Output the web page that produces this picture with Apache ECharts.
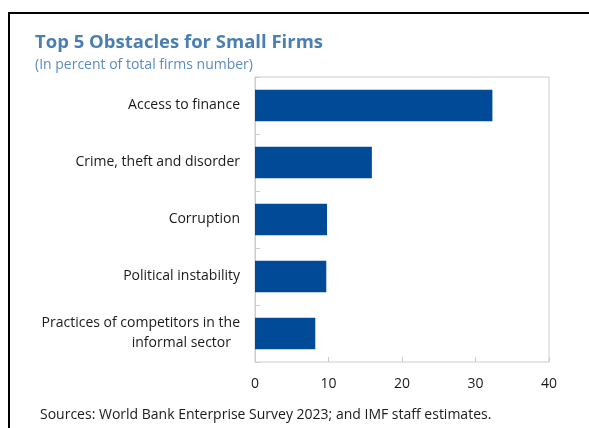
<!DOCTYPE html>
<html>
<head>
<meta charset="utf-8">
<script src="https://cdn.jsdelivr.net/npm/echarts@6/dist/echarts.min.js"></script>
<style>
  html, body { margin: 0; padding: 0; background: #fff; }
  #chart { width: 589px; height: 428px; }
</style>
</head>
<body>
<div id="chart"></div>
<script>
// Obstacles listed top to bottom
const categories = [
  'Access to finance',
  'Crime, theft and disorder',
  'Corruption',
  'Political instability',
  'Practices of competitors in the\ninformal sector'
];
// Share of firms citing each obstacle (percent)
const values = [32.3, 15.9, 9.8, 9.7, 8.2];
const xTicks = [0, 10, 20, 30, 40];

const FONT = '"Open Sans", "Noto Sans", sans-serif';
const chart = echarts.init(document.getElementById('chart'), null, { renderer: 'canvas' });

chart.setOption({
  animation: false,
  backgroundColor: '#ffffff',
  title: {
    text: 'Top 5 Obstacles for Small Firms',
    subtext: '(In percent of total firms number)',
    left: 30,
    top: 28,
    itemGap: 6,
    textStyle: { fontFamily: FONT, fontSize: 18.5, fontWeight: 'bold', color: '#4a7fb2' },
    subtextStyle: { fontFamily: FONT, fontSize: 14, color: '#5a8cc0' }
  },
  grid: {
    left: 255, right: 40, top: 77, bottom: 66,
    show: true, borderColor: '#cccccc', borderWidth: 1,
    containLabel: false
  },
  xAxis: {
    type: 'value',
    min: xTicks[0], max: xTicks[xTicks.length - 1], interval: 10,
    axisLine: { show: false },
    axisTick: { show: true, inside: true, length: 5, lineStyle: { color: '#cccccc' } },
    splitLine: { show: false },
    axisLabel: { margin: 15, fontFamily: FONT, fontSize: 14, color: '#1a1a1a' }
  },
  yAxis: {
    type: 'category',
    data: categories,
    inverse: true,
    axisLine: { show: true, lineStyle: { color: '#cccccc' } },
    axisTick: { show: true, inside: true, length: 5, lineStyle: { color: '#cccccc' } },
    axisLabel: {
      margin: 15, fontFamily: FONT, fontSize: 14, color: '#1a1a1a', lineHeight: 20,
      formatter: function (v) {
        const parts = v.split('\n');
        if (parts.length === 1) return v;
        return '{a|' + parts[0] + '}\n{b|' + parts[1] + '}';
      },
      rich: {
        a: { fontFamily: FONT, fontSize: 14, color: '#1a1a1a', lineHeight: 20 },
        b: { fontFamily: FONT, fontSize: 14, color: '#1a1a1a', lineHeight: 20, padding: [0, 9, 0, 0] }
      }
    }
  },
  series: [{
    type: 'bar',
    data: values,
    barCategoryGap: '45%',
    itemStyle: { color: '#004a98' }
  }],
  graphic: [
    { type: 'rect', shape: { x: 8, y: 12, width: 581, height: 2 }, style: { fill: '#000' }, silent: true },
    { type: 'rect', shape: { x: 8, y: 12, width: 2, height: 416 }, style: { fill: '#000' }, silent: true },
    {
      type: 'text', left: 40, top: 408, silent: true,
      style: {
        text: 'Sources: World Bank Enterprise Survey 2023; and IMF staff estimates.',
        fontFamily: FONT, fontSize: 14, fill: '#1a1a1a'
      }
    }
  ]
});
</script>
</body>
</html>
